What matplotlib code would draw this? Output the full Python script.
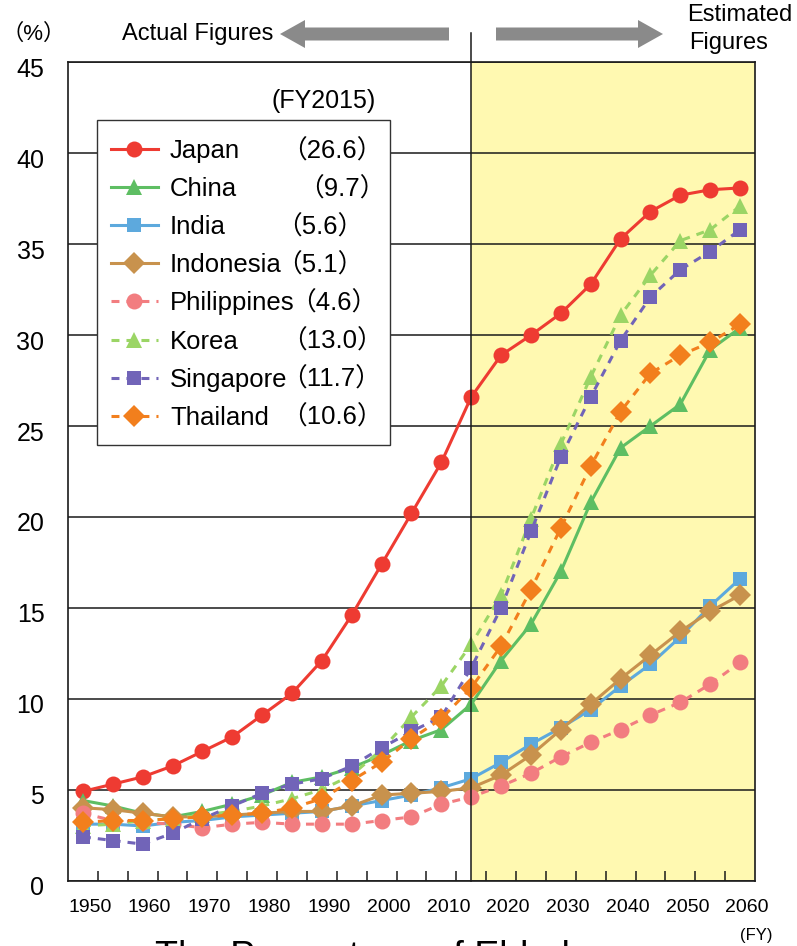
import matplotlib
matplotlib.use("Agg")
import matplotlib.pyplot as plt
from matplotlib.patches import FancyArrow, Rectangle
from matplotlib.transforms import ScaledTranslation, blended_transform_factory

plt.rcParams['font.family'] = ['Liberation Sans', 'Noto Sans CJK JP']

# share of population aged 65+ (%), 1950-2060 every 5 years
years = list(range(1950, 2061, 5))

japan = [4.9, 5.3, 5.7, 6.3, 7.1, 7.9, 9.1, 10.3, 12.1, 14.6, 17.4, 20.2, 23.0,
         26.6, 28.9, 30.0, 31.2, 32.8, 35.3, 36.8, 37.7, 38.0, 38.1]
china = [4.4, 4.1, 3.7, 3.5, 3.8, 4.2, 4.7, 5.4, 5.7, 6.2, 6.9, 7.7, 8.3,
         9.7, 12.1, 14.1, 17.0, 20.8, 23.8, 25.0, 26.2, 29.2, 30.4]
india = [3.1, 3.1, 3.0, 3.2, 3.3, 3.5, 3.6, 3.7, 3.8, 4.1, 4.4, 4.7, 5.1,
         5.6, 6.5, 7.5, 8.4, 9.4, 10.7, 11.9, 13.4, 15.1, 16.6]
indonesia = [4.0, 3.9, 3.7, 3.5, 3.5, 3.6, 3.7, 3.8, 3.8, 4.1, 4.7, 4.8, 4.9,
             5.1, 5.8, 6.9, 8.3, 9.7, 11.1, 12.4, 13.7, 14.8, 15.7]
philippines = [3.7, 3.3, 3.2, 3.1, 2.9, 3.1, 3.2, 3.1, 3.1, 3.1, 3.3, 3.5, 4.2,
               4.6, 5.2, 5.9, 6.8, 7.6, 8.3, 9.1, 9.8, 10.8, 12.0]
korea = [3.0, 3.1, 3.3, 3.4, 3.6, 3.8, 4.1, 4.5, 5.0, 5.8, 7.2, 9.0, 10.7,
         13.0, 15.7, 19.9, 24.0, 27.7, 31.1, 33.3, 35.2, 35.8, 37.1]
singapore = [2.4, 2.2, 2.0, 2.6, 3.4, 4.1, 4.8, 5.3, 5.6, 6.3, 7.3, 8.2, 9.0,
             11.7, 15.0, 19.2, 23.3, 26.6, 29.7, 32.1, 33.6, 34.6, 35.8]
thailand = [3.2, 3.3, 3.3, 3.4, 3.5, 3.6, 3.7, 4.0, 4.5, 5.5, 6.5, 7.8, 8.9,
            10.6, 12.9, 16.0, 19.4, 22.8, 25.8, 27.9, 28.9, 29.6, 30.6]

countries = ['Japan', 'China', 'India', 'Indonesia', 'Philippines',
             'Korea', 'Singapore', 'Thailand']
base_year = 2015
value_labels = ['（26.6）', '（9.7）', '（5.6）', '（5.1）', '（4.6）',
                '（13.0）', '（11.7）', '（10.6）']

series = [japan, china, india, indonesia, philippines, korea, singapore, thailand]
colors = ['#EE3B32', '#5EBE63', '#5DA9DD', '#C8924D', '#F27D80',
          '#9BD565', '#7164B8', '#F27F1D']
markers = ['o', '^', 's', 'D', 'o', '^', 's', 'D']
msizes = [11.5, 12, 10.5, 11, 11.5, 12, 10.5, 11]
dashed = [False, False, False, False, True, True, True, True]

W, H = 797, 946
fig = plt.figure(figsize=(W / 100, H / 100), dpi=100)
ax = fig.add_axes([68 / W, (H - 880.5) / H, (755 - 68) / W, (880.5 - 62.5) / H])

# projection period shaded
ax.axvspan(base_year, 2062.5, color='#FFF9B1', zorder=0.5, lw=0)

handles = []
for name, vals, c, m, ms, d in zip(countries, series, colors, markers, msizes, dashed):
    ln, = ax.plot(years, vals, color=c, marker=m, markersize=ms, mec=c, mew=0,
                  lw=2.2, label=name, zorder=3)
    if d:
        ln.set_dashes((2.6, 2.3))
    handles.append(ln)

ax.set_xlim(1947.5, 2062.5)
ax.set_ylim(0, 45)
ax.set_yticks(range(0, 50, 5))
ax.yaxis.grid(True, color='#1a1a1a', lw=1.1, zorder=1)
ax.set_axisbelow(True)

ax.set_xticks(range(1950, 2061, 10))
ax.set_xticks([y + 2.5 for y in range(1950, 2060, 5)], minor=True)
ax.tick_params(axis='x', which='major', length=0, pad=13, labelsize=14)
ax.tick_params(axis='x', which='minor', direction='in', length=7, width=1.1,
               color='#1a1a1a')
ax.tick_params(axis='y', length=0, pad=17, labelsize=18)
for lab in ax.get_xticklabels():
    lab.set_transform(lab.get_transform() + ScaledTranslation(0.07, 0, fig.dpi_scale_trans))
for lab in ax.get_yticklabels():
    lab.set_transform(lab.get_transform() + ScaledTranslation(0, -0.05, fig.dpi_scale_trans))

for sp in ax.spines.values():
    sp.set_color('#1a1a1a')
    sp.set_linewidth(1.2)

# divider between actual and estimated figures, reaching above the frame
trans = blended_transform_factory(ax.transData, ax.transAxes)
ax.plot([base_year, base_year], [0, 1.036], transform=trans, color='#1a1a1a',
        lw=1.1, clip_on=False, zorder=4)

# legend frame wide enough to hold the 2015 values
ax.add_patch(Rectangle((0.97, (H - 445) / 100), 2.93, 3.25, transform=fig.dpi_scale_trans,
                       facecolor='white', edgecolor='#333333', lw=1.0,
                       clip_on=False, zorder=4.5))
leg = ax.legend(handles=handles, loc='upper left',
                bbox_to_anchor=(98 / W, 1 - 126 / H), bbox_transform=fig.transFigure,
                borderaxespad=0, fontsize=18.5, frameon=False,
                handlelength=1.83, handletextpad=0.47, borderpad=0.5,
                labelspacing=0.55)
leg.set_zorder(5)

# 2015 values next to the legend entries
paren_x = [281, 298, 276, 276, 290, 281, 281, 281]
fig.canvas.draw()
for txt, val, px in zip(leg.get_texts(), value_labels, paren_x):
    bb = txt.get_window_extent()
    yc = (bb.y0 + bb.y1) / 2
    fig.text(px / W, yc / H, val, fontsize=18.5, ha='left', va='center', zorder=6)

fig.text(376 / W, 1 - 101 / H, '(FY2015)', fontsize=18, ha='right', va='center')

# header: units, arrows, period labels
fig.text(34 / W, 1 - 34 / H, '（%）', fontsize=16, ha='center', va='center')
fig.text(122 / W, 1 - 34 / H, 'Actual Figures', fontsize=17, ha='left', va='center')
fig.text(687 / W, 1 - 15 / H, 'Estimated', fontsize=17, ha='left', va='center')
fig.text(689 / W, 1 - 43 / H, 'Figures', fontsize=17, ha='left', va='center')
arrow_style = dict(width=0.13, head_width=0.28, head_length=0.25,
                   length_includes_head=True, color='#8A8A8A', lw=0,
                   transform=fig.dpi_scale_trans)
fig.add_artist(FancyArrow(4.49, (H - 34) / 100, -1.69, 0, **arrow_style))
fig.add_artist(FancyArrow(4.96, (H - 34) / 100, 1.67, 0, **arrow_style))

fig.text(756 / W, 1 - 935 / H, '(FY)', fontsize=12, ha='center', va='center')
fig.text(155 / W, (H - 968) / H, 'The Percentage of Elderly', fontsize=27,
         ha='left', va='baseline')

fig.savefig('out.png', dpi=100)
